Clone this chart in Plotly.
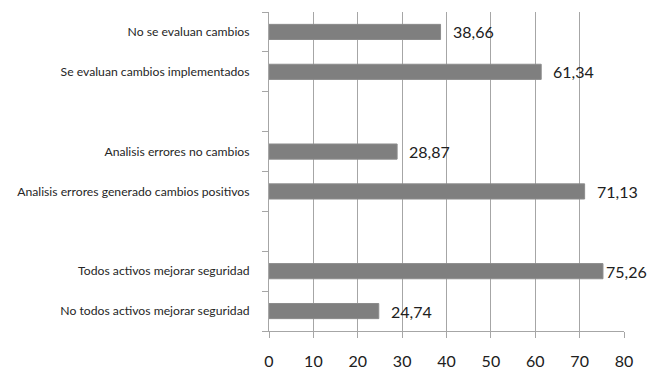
import plotly.graph_objects as go

# Categories listed bottom to top; blank entries separate the three groups
categories = [
    "No todos activos mejorar seguridad",
    "Todos activos mejorar seguridad",
    " ",
    "Analisis errores generado cambios positivos",
    "Analisis errores no cambios",
    "  ",
    "Se evaluan cambios implementados",
    "No se evaluan cambios",
]
values = [24.74, 75.26, None, 71.13, 28.87, None, 61.34, 38.66]
x_ticks = [0, 10, 20, 30, 40, 50, 60, 70, 80]
x_max = 80

bar_color = "#7f7f7f"
grid_color = "#a6a6a6"
text_color = "#262626"
font_family = "Lato, 'Open Sans', sans-serif"

fig = go.Figure(
    go.Bar(
        x=values,
        y=categories,
        orientation="h",
        marker=dict(color=bar_color, line=dict(color="#8c8c8c", width=1)),
        width=0.38,
        hoverinfo="skip",
    )
)

# Value labels to the right of each bar, with comma decimal separator;
# labels of bars that reach close to the axis end hug the bar end.
for cat, v in zip(categories, values):
    if v is None:
        continue
    shift = 1 if v > x_max - 6 else 10
    fig.add_annotation(
        x=v, y=cat, text=f"{v:.2f}".replace(".", ","),
        xanchor="left", yanchor="middle", xshift=shift, showarrow=False,
        font=dict(family=font_family, size=16, color="#202020"),
    )

fig.update_layout(
    width=649, height=370,
    margin=dict(l=269, r=25, t=12, b=39),
    paper_bgcolor="white", plot_bgcolor="white",
    showlegend=False,
    font=dict(family=font_family, color=text_color),
)
fig.update_xaxes(
    range=[0, x_max], tickvals=x_ticks,
    showgrid=True, gridcolor=grid_color, gridwidth=1,
    showline=True, linecolor=grid_color, linewidth=1,
    ticks="outside", ticklen=6, tickcolor=grid_color,
    tickfont=dict(size=16, color="#202020"),
    ticklabelstandoff=10,
    zeroline=False, automargin=False,
)
fig.update_yaxes(
    type="category", categoryorder="array", categoryarray=categories,
    range=[-0.5, len(categories) - 0.5],
    showgrid=False,
    showline=True, linecolor=grid_color, linewidth=1,
    ticks="outside", ticklen=6, tickcolor=grid_color, tickson="boundaries",
    tickfont=dict(size=12.2, color=text_color),
    ticklabelstandoff=16,
    automargin=False,
)

fig.write_html("out.html")
